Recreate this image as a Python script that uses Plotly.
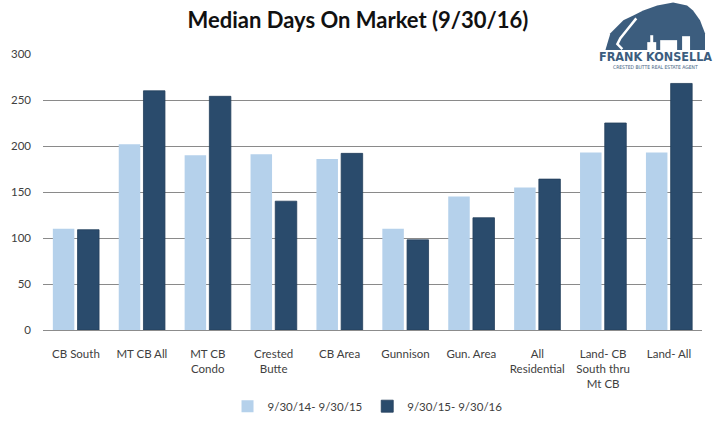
import plotly.graph_objects as go

categories = ["CB South", "MT CB All", "MT CB<br>Condo", "Crested<br>Butte", "CB Area",
              "Gunnison", "Gun. Area", "All<br>Residential", "Land- CB<br>South thru<br>Mt CB", "Land- All"]
series_names = ["9/30/14- 9/30/15", "9/30/15- 9/30/16"]
values_2015 = [110, 202, 190, 191, 186, 110, 145, 155, 193, 193]
values_2016 = [109, 260, 254, 140, 192, 98, 122, 164, 225, 268]
y_ticks = [0, 50, 100, 150, 200, 250, 300]

LIGHT = "#b5d1eb"
DARK = "#2a4b6c"
LOGO = "#3c5d7e"

W, H = 713, 432
L, R, T, B = 40, 11, 54, 99
PW, PH = W - L - R, H - T - B

def px(x):
    return (x - L) / PW

def py(y):
    return (H - B - y) / PH

fig = go.Figure()
fig.add_trace(go.Bar(x=categories, y=values_2015, name=series_names[0],
                     marker=dict(color=LIGHT, line=dict(width=0))))
fig.add_trace(go.Bar(x=categories, y=values_2016, name=series_names[1],
                     marker=dict(color=DARK, line=dict(color="#233f5c", width=0.8))))

# logo drawn with shapes
mountain = [(605, 50), (610, 33), (623, 20), (633, 15), (643, 10), (657, 5), (673, 2),
            (687, 5), (693, 10), (700, 20), (705, 33), (705, 50)]
path = "M " + " L ".join(f"{px(x)},{py(y)}" for x, y in mountain) + " Z"
road = [(636, 18), (628, 28), (620, 38), (617, 44), (622, 49)]
road_path = "M " + " L ".join(f"{px(x)},{py(y)}" for x, y in road)
shapes = [
    dict(type="rect", xref="paper", yref="paper", x0=px(603), x1=px(708), y0=py(71), y1=py(49),
         fillcolor="white", line=dict(width=0), layer="above"),
    dict(type="path", xref="paper", yref="paper", path=path, fillcolor=LOGO,
         line=dict(width=0), layer="above"),
    dict(type="path", xref="paper", yref="paper", path=road_path,
         line=dict(color="white", width=2.5), layer="above"),
]
for (x0, x1, y0, y1) in [(650, 653, 35, 50), (660, 677, 40, 50), (682, 690, 36, 50), (647, 656, 42, 50)]:
    shapes.append(dict(type="rect", xref="paper", yref="paper", x0=px(x0), x1=px(x1),
                       y0=py(y1), y1=py(y0), fillcolor="white", line=dict(width=0), layer="above"))

annotations = [
    dict(text="<b>FRANK KONSELLA</b>", xref="paper", yref="paper", x=px(655), y=py(57),
         xanchor="center", yanchor="middle", showarrow=False,
         font=dict(family="DejaVu Sans Condensed", size=12.5, color=LOGO)),
    dict(text="CRESTED BUTTE REAL ESTATE AGENT", xref="paper", yref="paper", x=px(655), y=py(67),
         xanchor="center", yanchor="middle", showarrow=False,
         font=dict(family="DejaVu Sans Condensed", size=5, color=LOGO)),
]

fig.update_layout(
    width=W, height=H,
    margin=dict(l=L, r=R, t=T, b=B),
    paper_bgcolor="white", plot_bgcolor="white",
    title=dict(text="<b>Median Days On Market (9/30/16)</b>", x=358 / W, xanchor="center",
               y=1 - 20 / H, yanchor="middle",
               font=dict(family="Lato", size=22, color="#111111")),
    barmode="group", bargap=0.25, bargroupgap=0.13,
    font=dict(family="Lato", size=11, color="#404040"),
    xaxis=dict(showgrid=False, showline=True, linecolor="#8c8c8c", linewidth=1,
               ticks="", ticklabelstandoff=13,
               tickfont=dict(size=11.5, color="#404040"), fixedrange=True),
    yaxis=dict(range=[0, 300], tickvals=y_ticks, showgrid=True, gridcolor="#8a8a8a",
               gridwidth=1, zeroline=False, showline=False, ticks="",
               ticklabelstandoff=11, tickfont=dict(size=11.5, color="#404040"), fixedrange=True),
    legend=dict(orientation="h", x=px(366), xanchor="center", y=py(410), yanchor="middle",
                font=dict(size=11.5, color="#404040"), itemwidth=30, traceorder="normal"),
    shapes=shapes, annotations=annotations,
    showlegend=True,
)

fig.write_html("out.html")
